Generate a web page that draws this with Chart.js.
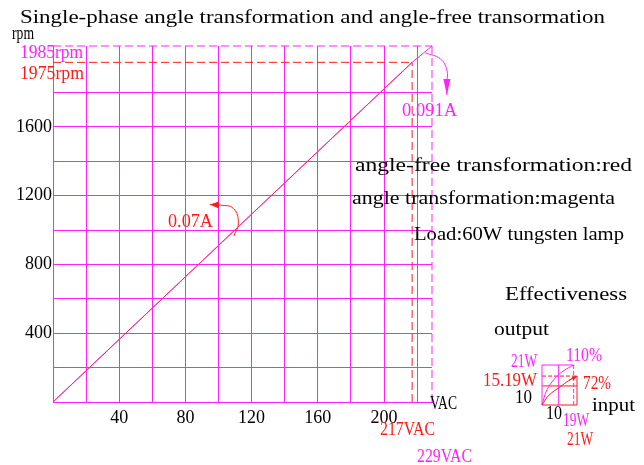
<!DOCTYPE html>
<html>
<head>
<meta charset="utf-8">
<script src="https://cdn.jsdelivr.net/npm/chart.js@4.4.0/dist/chart.umd.min.js"></script>
<style>
html, body { margin: 0; padding: 0; background: #fff; }
#wrap { position: relative; width: 644px; height: 465px; }
#main { position: absolute; left: 0; top: 0; }
#eff { position: absolute; left: 539px; top: 362px; }
</style>
</head>
<body>
<div id="wrap">
  <canvas id="main" width="644" height="465"></canvas>
  <canvas id="eff" width="41" height="46"></canvas>
</div>
<script>
// speed (rpm) vs supply voltage (VAC)
const voltTicks = [0, 20, 40, 60, 80, 100, 120, 140, 160, 180, 200, 220];
const rpmTicks = [0, 200, 400, 600, 800, 1000, 1200, 1400, 1600, 1800];
const voltMax = 229;
const rpmMax = 2070;            // where the top line is drawn (labelled 1985rpm)
const angleVolt = [0, 217, 229]; // angle transformation (magenta)
const angleRpm = [0, 1975, 2070];
const freeVolt = [0, 217];       // angle-free transformation (red)
const freeRpm = [0, 1975];
// current notes (curved arrows), tip first
const arrowRedVolt = [94.8, 101, 109, 112, 109.3];
const arrowRedRpm = [1148, 1145, 1125, 1040, 965];
const arrowMagVolt = [238, 238, 238, 234, 225];
const arrowMagRpm = [1785, 1860, 1930, 1995, 2030];

// efficiency inset (input W -> output W)
const effMax = 21;
const effInMag = [0, 3, 8, 13, 19];
const effOutMag = [0, 8, 14.2, 18, 21];
const effInRed = [0, 4, 11, 16, 21];
const effOutRed = [0, 5, 9.6, 12.8, 15.19];

const MAG = '#ff22ff';
const RED = '#ff1a1a';
const FONT = '"Liberation Serif", "DejaVu Serif", serif';

function pts(xs, ys) {
    return xs.map((x, i) => ({ x: x, y: ys[i] }));
}
function line(xs, ys, color, dash, extra) {
    return Object.assign({
        data: pts(xs, ys),
        showLine: true,
        borderColor: color,
        backgroundColor: color,
        borderWidth: 1,
        borderDash: dash || [],
        pointRadius: 0,
        tension: 0,
        clip: false
    }, extra || {});
}
function arrow(xs, ys, color, len, wid) {
    return line(xs, ys, color, [], { tension: 0.45, arrowHead: [len, wid] });
}

// filled head on the first point of every arrow dataset
const arrowPlugin = {
    id: 'arrowHeads',
    afterDatasetsDraw(chart) {
        const ctx = chart.ctx;
        chart.data.datasets.forEach((ds, i) => {
            if (!ds.arrowHead) return;
            const el = chart.getDatasetMeta(i).data;
            const tip = el[0], back = el[1];
            const a = Math.atan2(tip.y - back.y, tip.x - back.x);
            const len = ds.arrowHead[0], wid = ds.arrowHead[1];
            ctx.save();
            ctx.translate(tip.x, tip.y);
            ctx.rotate(a);
            ctx.fillStyle = ds.borderColor;
            ctx.beginPath();
            ctx.moveTo(0, 0);
            ctx.lineTo(-len, -wid / 2);
            ctx.lineTo(-len, wid / 2);
            ctx.closePath();
            ctx.fill();
            ctx.restore();
        });
    }
};

// texts put on the picture: [text, left, baseline, width, color, size]
const notes = [
    ['Single-phase angle transformation and angle-free transormation', 20, 23, 585, '#000', 19],
    ['rpm', 12, 39, 22, '#000', 18],
    ['1985rpm', 20, 58, 63, MAG, 18],
    ['1975rpm', 20, 79, 64, RED, 18],
    ['0.091A', 402, 116, 55, MAG, 18],
    ['0.07A', 168, 227, 45, RED, 18],
    ['angle-free transformation:red', 355, 171, 277, '#000', 18],
    ['angle transformation:magenta', 352, 204, 263, '#000', 18],
    ['Load:60W tungsten lamp', 414, 240, 210, '#000', 18],
    ['VAC', 430, 409, 27, '#000', 18],
    ['217VAC', 380, 435, 55, RED, 18],
    ['229VAC', 417, 462, 55, MAG, 18],
    ['Effectiveness', 505, 300, 122, '#000', 18],
    ['output', 494, 335, 55, '#000', 18],
    ['21W', 511, 367, 26, MAG, 18],
    ['110%', 566, 361, 36, MAG, 18],
    ['15.19W', 483, 386, 54, RED, 18],
    ['72%', 583, 389, 28, RED, 18],
    ['10', 515, 403, 17, '#000', 18],
    ['input', 592, 411, 43, '#000', 18],
    ['10', 546, 419, 16, '#000', 18],
    ['19W', 563, 426, 26, MAG, 18],
    ['21W', 567, 445, 26, RED, 18]
];

const notesPlugin = {
    id: 'notes',
    afterDraw(chart) {
        const ctx = chart.ctx;
        ctx.save();
        ctx.textBaseline = 'alphabetic';
        ctx.textAlign = 'left';
        for (const n of notes) {
            ctx.font = n[5] + 'px ' + FONT;
            ctx.fillStyle = n[4];
            const w = ctx.measureText(n[0]).width;
            ctx.save();
            ctx.translate(n[1], n[2]);
            ctx.scale(n[3] / w, 1);
            ctx.fillText(n[0], 0, 0);
            ctx.restore();
        }
        ctx.restore();
    }
};

new Chart(document.getElementById('main'), {
    type: 'scatter',
    data: {
        datasets: [
            // first dataset is painted on top
            line(freeVolt, freeRpm, '#ff2a6a'),
            line(angleVolt, angleRpm, MAG),
            line([0, freeVolt[1]], [freeRpm[1], freeRpm[1]], RED, [8, 4]),
            line([freeVolt[1], freeVolt[1]], [0, freeRpm[1]], RED, [8, 4]),
            line([0, voltMax], [rpmMax, rpmMax], MAG, [8, 4]),
            line([voltMax, voltMax], [0, rpmMax], MAG, [8, 4]),
            arrow(arrowRedVolt, arrowRedRpm, RED, 9, 7),
            arrow(arrowMagVolt, arrowMagRpm, MAG, 16, 7)
        ]
    },
    options: {
        responsive: false,
        animation: false,
        layout: { padding: { top: 46, right: 212, left: 0, bottom: 0 } },
        plugins: { legend: { display: false }, tooltip: { enabled: false } },
        scales: {
            x: {
                type: 'linear', min: 0, max: voltMax,
                afterBuildTicks: s => { s.ticks = voltTicks.map(v => ({ value: v })); },
                afterFit: s => { s.height = 63; },
                border: { color: MAG },
                grid: { color: MAG, drawTicks: false, lineWidth: 1 },
                ticks: {
                    autoSkip: false, maxRotation: 0, padding: 5, color: '#000',
                    font: { family: FONT, size: 18 },
                    callback: v => (v % 40 == 0 && v > 0 && v < 220) ? v : ''
                }
            },
            y: {
                type: 'linear', min: 0, max: rpmMax,
                afterBuildTicks: s => { s.ticks = rpmTicks.map(v => ({ value: v })); },
                afterFit: s => { s.width = 53; },
                border: { color: MAG },
                grid: { color: MAG, drawTicks: false, lineWidth: 1 },
                ticks: {
                    autoSkip: false, padding: 1, color: '#000',
                    font: { family: FONT, size: 18 },
                    callback: v => (v % 400 == 0 && v > 0) ? v : ''
                }
            }
        }
    },
    plugins: [arrowPlugin, notesPlugin]
});

new Chart(document.getElementById('eff'), {
    type: 'scatter',
    data: {
        datasets: [
            line(effInRed, effOutRed, RED, [], { tension: 0.4 }),
            line(effInMag, effOutMag, MAG, [], { tension: 0.4 }),
            line([0, 0], [0, effMax], MAG),
            line([0, effInMag[4]], [effMax, effMax], MAG),
            line([10, 10], [0, effMax], MAG),
            line([effInMag[4], effInMag[4]], [0, effMax], MAG, [4, 2]),
            line([0, effMax], [0, 0], RED),
            line([0, effMax], [10, 10], RED),
            line([0, effMax], [effOutRed[4], effOutRed[4]], RED, [4, 2]),
            line([effMax, effMax], [0, effOutRed[4]], RED),
            // small head at the end of the red curve
            line([effInRed[4], effInRed[3]], [effOutRed[4], effOutRed[3]], RED, [], { arrowHead: [5, 4] })
        ]
    },
    options: {
        responsive: false,
        animation: false,
        layout: { padding: 3 },
        plugins: { legend: { display: false }, tooltip: { enabled: false } },
        scales: {
            x: { type: 'linear', min: 0, max: effMax, display: false },
            y: { type: 'linear', min: 0, max: effMax, display: false }
        }
    },
    plugins: [arrowPlugin]
});
</script>
</body>
</html>
